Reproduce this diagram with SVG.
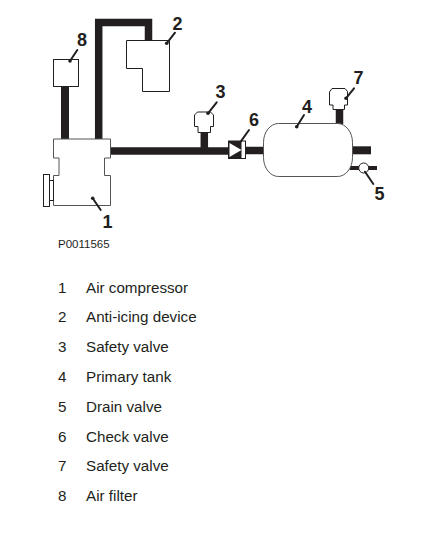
<svg xmlns="http://www.w3.org/2000/svg" width="437" height="534" viewBox="0 0 437 534">
<style>
.p{fill:none;stroke:#231f20;stroke-linecap:butt}
.w{fill:#fff;stroke:#231f20;stroke-width:1}
.t{fill:#fff;stroke:#555;stroke-width:1}
.l{stroke:#231f20;stroke-width:2;stroke-linecap:round;fill:none}
.d{fill:#231f20}
text{font-family:"Liberation Sans",Arial,sans-serif;fill:#231f20}
.n{font-size:18px;font-weight:bold}
.i{font-size:15.2px}
</style>
<rect width="437" height="534" fill="#fff"/>
<g id="connectors">
<path class="p" stroke-width="8" d="M65 87V139"/>
<path class="p" stroke-width="7.5" d="M98.700 139V22.500H148.500V41"/>
<path class="p" stroke-width="7.500" d="M110 151H229"/>
<path class="p" stroke-width="7.500" d="M204.300 132V151"/>
<path class="p" stroke-width="7.500" d="M245 150.500H264"/>
<path class="p" stroke-width="7.500" d="M339.500 109V124"/>
<path class="p" stroke-width="8" d="M352 150.300H371"/>
<path class="p" stroke-width="4" d="M350 168H377"/>
</g>
<g id="node-8"><rect class="w" x="53.500" y="59.500" width="25" height="27"/><path class="l" d="M70 61L77.300 50"/><circle class="d" cx="70" cy="61" r="1.800"/></g>
<g id="node-2"><path class="w" d="M126.500 40.500H169.500V91.500H142.500V68.500H126.500Z"/><path class="l" d="M166.700 43.300L175 32.700"/><circle class="d" cx="166.700" cy="43.300" r="1.800"/></g>
<g id="node-1">
<path class="t" d="M53.500 139H110.500V158H104.500V175.500H110.500V205.500H53.500V175.500H59V158H53.500Z"/>
<rect class="w" x="43.500" y="174.500" width="6" height="32"/>
<rect class="w" x="49.500" y="180.500" width="4" height="20"/>
<path class="l" d="M92.700 198.300L100.700 210"/><circle class="d" cx="92.700" cy="198.300" r="1.800"/>
</g>
<g id="node-3"><path class="w" d="M197.500 112H210.500L213.500 115V126.500H210.500V132.500H198V126.500H194.500V115Z"/><path class="l" d="M208 113.300L216.700 102.300"/><circle class="d" cx="208" cy="113.300" r="1.800"/></g>
<g id="node-6"><rect x="228.500" y="141" width="17" height="17.500" fill="#fff" stroke="#231f20"/><rect x="228.500" y="141" width="13" height="17.500" fill="#231f20"/><path d="M229.500 143L241.500 150L229.500 157Z" fill="#fff"/><path class="l" d="M240.700 141.700L249 130"/></g>
<g id="node-4"><rect class="t" x="263.500" y="123.500" width="89" height="53" rx="15" ry="19"/><path class="l" d="M296.700 126.700L304 115"/><circle class="d" cx="296.700" cy="126.700" r="1.800"/></g>
<g id="node-7"><path class="w" d="M332 88.500H345L347.500 91.500V105H344.500V109.500H333V105H329.500V92Z"/><path class="l" d="M346 98.300L354 88.300"/><circle class="d" cx="346" cy="98.300" r="1.800"/></g>
<g id="node-5"><circle class="w" cx="363.700" cy="168" r="5"/><path class="l" d="M365 171.700L373.300 184"/></g>
<g id="labels">
<text class="n" x="102.500" y="228">1</text>
<text class="n" x="172.500" y="30">2</text>
<text class="n" x="215.500" y="98">3</text>
<text class="n" x="302" y="112.500">4</text>
<text class="n" x="374.500" y="200">5</text>
<text class="n" x="249" y="126">6</text>
<text class="n" x="353.500" y="84">7</text>
<text class="n" x="77" y="45.500">8</text>
<text x="58" y="248" font-size="11.500">P0011565</text>
</g>
<g id="legend" class="i">
<text x="58" y="293">1</text><text x="86" y="293">Air compressor</text>
<text x="58" y="322">2</text><text x="86" y="322">Anti-icing device</text>
<text x="58" y="352">3</text><text x="86" y="352">Safety valve</text>
<text x="58" y="382">4</text><text x="86" y="382">Primary tank</text>
<text x="58" y="412">5</text><text x="86" y="412">Drain valve</text>
<text x="58" y="442">6</text><text x="86" y="442">Check valve</text>
<text x="58" y="471">7</text><text x="86" y="471">Safety valve</text>
<text x="58" y="501">8</text><text x="86" y="501">Air filter</text>
</g>
</svg>
